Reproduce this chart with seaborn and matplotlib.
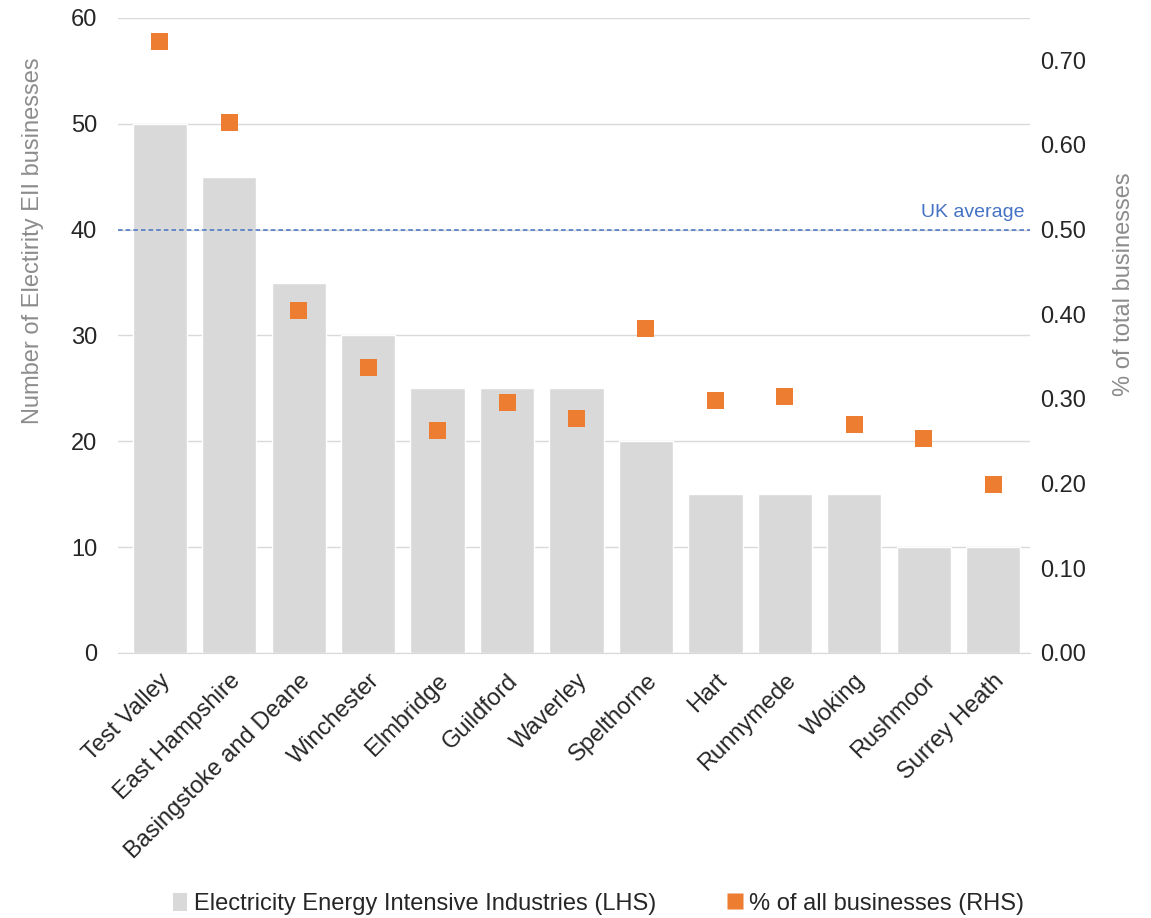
import pandas as pd
import seaborn as sns
import matplotlib.pyplot as plt
from matplotlib.lines import Line2D
from matplotlib.patches import Patch

# Data
areas = ['Test Valley', 'East Hampshire', 'Basingstoke and Deane', 'Winchester',
         'Elmbridge', 'Guildford', 'Waverley', 'Spelthorne', 'Hart', 'Runnymede',
         'Woking', 'Rushmoor', 'Surrey Heath']
eii_count = [50, 45, 35, 30, 25, 25, 25, 20, 15, 15, 15, 10, 10]
pct_share = [0.722, 0.626, 0.405, 0.337, 0.263, 0.296, 0.277, 0.383, 0.298,
             0.303, 0.270, 0.253, 0.199]
uk_average = 0.50

df = pd.DataFrame({'area': areas, 'count': eii_count, 'pct': pct_share})

sns.set_style('white')
plt.rcParams['font.family'] = ['Liberation Sans', 'DejaVu Sans']

fig = plt.figure(figsize=(11.51, 9.18), dpi=100)
ax = fig.add_axes([0.1025, 0.2887, 0.7925, 0.6917])

# Bars (LHS)
sns.barplot(data=df, x='area', y='count', color='#d9d9d9', saturation=1,
            width=0.78, ax=ax, zorder=2)
ax.set_ylim(0, 60)
ax.set_xlim(-0.6, 12.53)
ax.set_yticks(range(0, 61, 10))
ax.yaxis.grid(True, color='#d9d9d9', linewidth=1, zorder=0)
ax.set_axisbelow(True)
for s in ax.spines.values():
    s.set_visible(False)
ax.spines['bottom'].set_visible(True)
ax.spines['bottom'].set_color('#d9d9d9')
ax.tick_params(axis='y', length=0, labelsize=17, labelcolor='#262626', pad=15)
ax.tick_params(axis='x', length=0, labelsize=17, labelcolor='#262626', pad=12)
plt.setp(ax.get_xticklabels(), rotation=45, ha='right', rotation_mode='anchor')
ax.set_xlabel('')
ax.set_ylabel('Number of Electirity EII businesses', fontsize=17, color='#8c8c8c')
ax.yaxis.set_label_coords(-0.081, 0.649)

# Markers (RHS)
ax2 = ax.twinx()
sns.scatterplot(data=df, x='area', y='pct', marker='s', s=150, color='#ed7d31',
                edgecolor='none', ax=ax2, zorder=3)
ax2.set_ylim(0, 0.75)
ax2.set_yticks([i / 10 for i in range(8)])
ax2.set_yticklabels([f'{i / 10:.2f}' for i in range(8)])
ax2.tick_params(axis='y', length=0, labelsize=17, labelcolor='#262626', pad=7)
for s in ax2.spines.values():
    s.set_visible(False)
ax2.set_ylabel('% of total businesses', fontsize=17, color='#8c8c8c')
ax2.yaxis.set_label_coords(1.091, 0.58)
ax2.set_xlim(-0.6, 12.53)

# UK average line
ax2.axhline(uk_average, color='#4472c4', linestyle=(0, (3, 2)), linewidth=1.1, zorder=1)
ax2.text(12.45, uk_average + 0.01, 'UK average', color='#4472c4', fontsize=14,
         ha='right', va='bottom')

# Legend
handles = [Patch(facecolor='#d9d9d9', edgecolor='none'),
           Line2D([], [], marker='s', linestyle='none', markersize=11,
                  markerfacecolor='#ed7d31', markeredgecolor='none')]
labels = ['Electricity Energy Intensive Industries (LHS)', '% of all businesses (RHS)']
fig.legend(handles, labels, loc='lower center', bbox_to_anchor=(0.52, -0.02), ncol=2,
           frameon=False, fontsize=17, handlelength=0.6, handleheight=0.8,
           handletextpad=0.3, columnspacing=3.0)

fig.savefig('out.png', dpi=100)
